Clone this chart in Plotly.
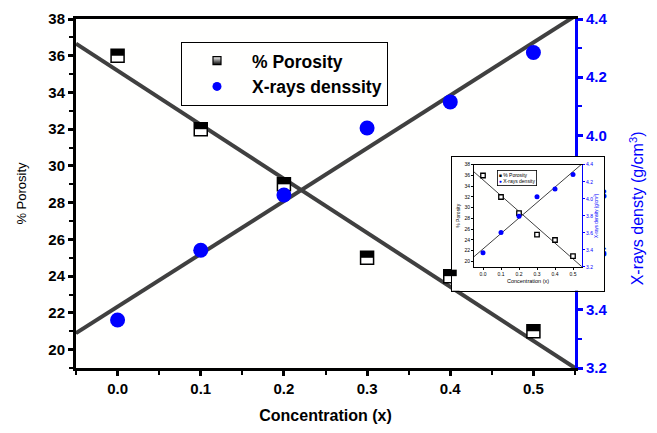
import numpy as np
import plotly.graph_objects as go

# ---- data ----
conc = [0.0, 0.1, 0.2, 0.3, 0.4, 0.5]
porosity = [36.0, 32.0, 29.0, 25.0, 24.0, 21.0]
density = [3.365, 3.605, 3.795, 4.025, 4.115, 4.285]
x_range = [-0.05, 0.55]
por_range = [19, 38]
den_range = [3.2, 4.4]
x_ticks = [0.0, 0.1, 0.2, 0.3, 0.4, 0.5]
series_names = ["% Porosity", "X-rays denssity"]
inset_names = ["% Porosity", "X-rays density"]

# linear fits
pp = np.polyfit(conc, porosity, 1)
pd_ = np.polyfit(conc, density, 1)
fit_x = np.array(x_range)
fit_por = np.polyval(pp, fit_x)
fit_den = np.polyval(pd_, fit_x)

BLUE = "#0000ff"
LINEC = "#404040"
FONT = "Liberation Sans, Arial, sans-serif"

fig = go.Figure()

# main plot
fig.add_trace(go.Scatter(x=fit_x, y=fit_por, mode="lines", line=dict(color=LINEC, width=4),
                         showlegend=False, xaxis="x", yaxis="y", hoverinfo="skip"))
fig.add_trace(go.Scatter(x=fit_x, y=fit_den, mode="lines", line=dict(color=LINEC, width=4),
                         showlegend=False, xaxis="x", yaxis="y2", hoverinfo="skip"))
fig.add_trace(go.Scatter(x=conc, y=porosity, mode="markers", name=series_names[0], showlegend=False,
                         marker=dict(symbol="square", size=13, color="white",
                                     line=dict(color="black", width=1.5)),
                         xaxis="x", yaxis="y"))
fig.add_trace(go.Scatter(x=conc, y=density, mode="markers", name=series_names[1], showlegend=False,
                         marker=dict(symbol="circle", size=15, color=BLUE, line=dict(width=0)),
                         xaxis="x", yaxis="y2"))
# legend entries (small symbols as in the reference legend)
fig.add_trace(go.Scatter(x=[None], y=[None], mode="markers", name=series_names[0],
                         marker=dict(symbol="square", size=8, color="white",
                                     line=dict(color="black", width=1.2),
                                     gradient=dict(type="vertical", color="black")),
                         xaxis="x", yaxis="y"))
fig.add_trace(go.Scatter(x=[None], y=[None], mode="markers", name=series_names[1],
                         marker=dict(symbol="circle", size=9, color=BLUE, line=dict(width=0)),
                         xaxis="x", yaxis="y2"))

# cover box subplot (empty)
fig.add_trace(go.Scatter(x=[], y=[], xaxis="x3", yaxis="y4", showlegend=False, hoverinfo="skip"))

# inset
fig.add_trace(go.Scatter(x=fit_x, y=fit_por, mode="lines", line=dict(color=LINEC, width=1),
                         showlegend=False, xaxis="x4", yaxis="y5", hoverinfo="skip"))
fig.add_trace(go.Scatter(x=fit_x, y=fit_den, mode="lines", line=dict(color=LINEC, width=1),
                         showlegend=False, xaxis="x4", yaxis="y6", hoverinfo="skip"))
fig.add_trace(go.Scatter(x=conc, y=porosity, mode="markers", showlegend=False,
                         marker=dict(symbol="square", size=4.5, color="white",
                                     line=dict(color="black", width=1.3)),
                         xaxis="x4", yaxis="y5"))
fig.add_trace(go.Scatter(x=conc, y=density, mode="markers", showlegend=False,
                         marker=dict(symbol="circle", size=5, color=BLUE, line=dict(width=0)),
                         xaxis="x4", yaxis="y6"))

# half filled square tops (main)
shapes = []
for cx, cy in zip(conc, porosity):
    shapes.append(dict(type="rect", xref="x", yref="y", xsizemode="pixel", ysizemode="pixel",
                       xanchor=cx, yanchor=cy, x0=-6.5, x1=6.5, y0=0, y1=6.5,
                       fillcolor="black", line=dict(width=0), layer="above"))

W0 = 657 - 76 - 10
H0 = 368 - 16
main_end = (575 - 76) / W0

def px(xp):
    return (xp - 76) / W0

def py(yp):
    return (368 - yp) / H0

tickfont_main = dict(family=FONT, size=15, color="black", weight="bold")

annotations = [
    dict(text="X-rays densty (g/cm<sup>3</sup>)", xref="paper", yref="paper",
         x=px(637), y=py(207), xanchor="center", yanchor="middle", textangle=-90,
         showarrow=False, font=dict(family=FONT, size=16, color=BLUE)),
    dict(text=f"<span style='color:black'>\u25a0</span> {inset_names[0]}<br>"
              f"<span style='color:{BLUE}'>\u25cf</span> {inset_names[1]}",
         xref="paper", yref="paper", x=px(497), y=py(168), xanchor="left", yanchor="top",
         align="left", showarrow=False, bordercolor="black", borderwidth=0.8, borderpad=1,
         bgcolor="white", font=dict(family=FONT, size=5, color="black")),
]

fig.update_layout(
    width=657, height=433,
    margin=dict(l=76, r=10, t=16, b=65),
    paper_bgcolor="white", plot_bgcolor="#fffffe",
    font=dict(family=FONT, color="black"),
    shapes=shapes, annotations=annotations,
    xaxis=dict(domain=[0, main_end], range=x_range, anchor="y",
               tickmode="array", tickvals=x_ticks, ticktext=[f"{v:.1f}" for v in x_ticks],
               ticks="outside", ticklen=5, tickwidth=2.5, tickcolor="black",
               minor=dict(tickmode="linear", tick0=0, dtick=0.05, ticks="outside", ticklen=4, tickwidth=2, tickcolor="black"),
               showline=True, linewidth=3, linecolor="black", mirror=True,
               showgrid=False, zeroline=False, tickfont=tickfont_main,
               title=dict(text="Concentration (x)", font=dict(family=FONT, size=16, weight="bold"), standoff=14)),
    xaxis2=dict(overlaying="x", side="top", anchor="y", range=x_range, showticklabels=False,
                tickmode="linear", tick0=0, dtick=0.1, ticks="inside", ticklen=5, tickwidth=2.5, tickcolor="black",
                minor=dict(tickmode="linear", tick0=0, dtick=0.05, ticks="inside", ticklen=4, tickwidth=2, tickcolor="black"),
                showline=False, showgrid=False, zeroline=False),
    yaxis=dict(range=por_range, anchor="x", tickmode="linear", tick0=20, dtick=2,
               ticks="outside", ticklen=5, tickwidth=2.5, tickcolor="black",
               minor=dict(tickmode="linear", tick0=19, dtick=1, ticks="outside", ticklen=4, tickwidth=2, tickcolor="black"),
               showline=True, linewidth=3, linecolor="black",
               showgrid=False, zeroline=False, tickfont=tickfont_main,
               title=dict(text="% Porosity", font=dict(family=FONT, size=13), standoff=19)),
    yaxis2=dict(range=den_range, overlaying="y", side="right", anchor="x",
                tickmode="linear", tick0=3.2, dtick=0.2, tickformat=".1f",
                ticks="outside", ticklen=5, tickwidth=2.5, tickcolor=BLUE,
                minor=dict(tickmode="linear", tick0=3.2, dtick=0.1, ticks="outside", ticklen=4, tickwidth=2, tickcolor=BLUE),
                showline=True, linewidth=3, linecolor=BLUE,
                showgrid=False, zeroline=False,
                tickfont=dict(family=FONT, size=15, color=BLUE, weight="bold")),
    # cover box
    xaxis3=dict(domain=[px(452), px(604)], anchor="y4", range=[0, 1],
                showticklabels=False, ticks="", showgrid=False, zeroline=False,
                showline=True, mirror=True, linecolor="black", linewidth=1.2),
    yaxis4=dict(domain=[py(290), py(155)], anchor="x3", range=[0, 1],
                showticklabels=False, ticks="", showgrid=False, zeroline=False,
                showline=True, mirror=True, linecolor="black", linewidth=1.2),
    # inset axes
    xaxis4=dict(domain=[px(474), px(582)], anchor="y5", range=x_range,
                tickmode="array", tickvals=x_ticks, ticktext=[f"{v:.1f}" for v in x_ticks],
                ticks="outside", ticklen=2, tickwidth=1, tickcolor="black",
                showline=True, linewidth=1, linecolor="black", mirror=True,
                showgrid=False, zeroline=False, tickfont=dict(family=FONT, size=5),
                title=dict(text="Concentration (x)", font=dict(family=FONT, size=5.5), standoff=3)),
    yaxis5=dict(domain=[py(266), py(163)], anchor="x4", range=por_range,
                tickmode="linear", tick0=20, dtick=2,
                ticks="outside", ticklen=2, tickwidth=1, tickcolor="black",
                showline=True, linewidth=1, linecolor="black",
                showgrid=False, zeroline=False, tickfont=dict(family=FONT, size=5),
                title=dict(text="% Porosity", font=dict(family=FONT, size=5), standoff=3)),
    yaxis6=dict(range=den_range, overlaying="y5", side="right", anchor="x4",
                tickmode="linear", tick0=3.2, dtick=0.2, tickformat=".1f",
                ticks="outside", ticklen=2, tickwidth=1, tickcolor=BLUE,
                showline=True, linewidth=1, linecolor=BLUE,
                showgrid=False, zeroline=False, tickfont=dict(family=FONT, size=5, color=BLUE),
                title=dict(text="X-rays density (g/cm<sup>3</sup>)", font=dict(family=FONT, size=4.5, color=BLUE), standoff=2)),
    legend=dict(x=px(181), y=py(39), xanchor="left", yanchor="top",
                bordercolor="black", borderwidth=1, bgcolor="rgba(255,255,255,0)",
                font=dict(family=FONT, size=17.5, weight="bold", color="black"),
                itemsizing="trace", itemwidth=60, tracegroupgap=0),
)

fig.write_html("out.html")
